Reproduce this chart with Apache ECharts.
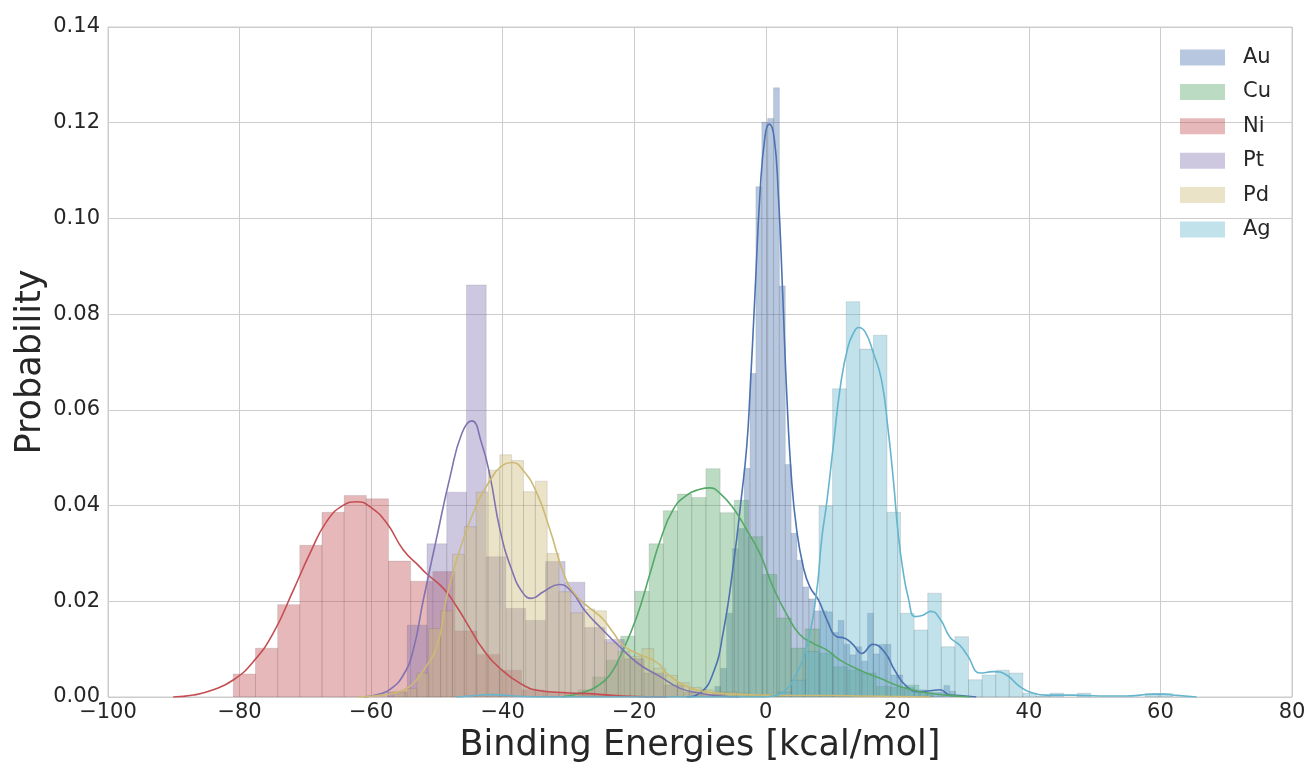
<!DOCTYPE html>
<html>
<head>
<meta charset="utf-8">
<script src="https://cdn.jsdelivr.net/npm/echarts@6/dist/echarts.min.js"></script>
<style>
  html, body { margin: 0; padding: 0; background: #ffffff; }
  #chart { width: 1312px; height: 769px; }
</style>
</head>
<body>
<div id="chart"></div>
<script>
// Binding-energy distributions: normalised histograms plus kernel density curves
const metals = ['Au', 'Cu', 'Ni', 'Pt', 'Pd', 'Ag'];
const palette = ['#4C72B0', '#55A868', '#C44E52', '#8172B2', '#CCB974', '#64B5CD'];

const xTicks = [-100, -80, -60, -40, -20, 0, 20, 40, 60, 80];
const yTicks = [0, 0.02, 0.04, 0.06, 0.08, 0.10, 0.12, 0.14];

// Histogram bins: left edge of first bin, bin width, density per bin
const auStart = -7.75, auWidth = 0.893;
const auHist = [0.0022, 0.006, 0.0175, 0.031, 0.0352, 0.0478, 0.0676, 0.1066, 0.1201, 0.1209, 0.1273,
  0.0859, 0.0486, 0.0342, 0.0286, 0.023, 0.0205, 0.018, 0.018, 0.0178, 0.0135, 0.016, 0.011, 0.0088,
  0.0105, 0.0075, 0.0175, 0.009, 0.011, 0.011, 0.0046, 0.0046, 0.002, 0.002, 0.0015, 0.0015, 0.001,
  0.001, 0.001, 0.0024, 0.0012];

const cuStart = -28.53, cuWidth = 2.159;
const cuHist = [0.0015, 0.0042, 0.0077, 0.0127, 0.0221, 0.032, 0.0389, 0.0424, 0.0417, 0.0477, 0.0385,
  0.0411, 0.0335, 0.0256, 0.0165, 0.0102, 0.0142, 0.0091, 0.0063, 0.0056, 0.005, 0.0022, 0.002, 0.0025, 0.0008];

const niStart = -80.95, niWidth = 3.37;
const niHist = [0.0048, 0.0102, 0.0193, 0.0317, 0.0386, 0.0421, 0.0414, 0.0284, 0.0242, 0.0262, 0.0138,
  0.0089, 0.0056, 0.0015, 0.001, 0.0008, 0.0005];

const ptStart = -57.5, ptWidth = 3.0;
const ptHist = [0.001, 0.015, 0.032, 0.0428, 0.0861, 0.0293, 0.0185, 0.016, 0.0283, 0.024, 0.0145,
  0.012, 0.008, 0.005, 0.0025, 0.001, 0.0005];

const pdStart = -56.63, pdWidth = 1.80;
const pdHist = [0.0011, 0.0018, 0.005, 0.0143, 0.018, 0.0298, 0.0356, 0.0428, 0.0474, 0.0506, 0.0494,
  0.0429, 0.0451, 0.030, 0.022, 0.0176, 0.0184, 0.018, 0.0113, 0.0095, 0.0085, 0.0101, 0.006, 0.0045,
  0.003, 0.002, 0.0015, 0.001, 0.001, 0.0008, 0.0005, 0.0005, 0.0003];

const agStart = 1.897, agWidth = 2.066;
const agHist = [0.001, 0.0035, 0.0095, 0.0399, 0.0644, 0.0826, 0.0727, 0.0756, 0.0386, 0.0175, 0.014,
  0.0217, 0.0105, 0.0126, 0.0036, 0.0046, 0.0056, 0.005, 0.0008, 0.0002, 0.0008, 0, 0.0008, 0, 0, 0, 0,
  0.0007, 0.0007];

// Kernel density estimates (x, density)
const auKdeX = [-12, -10, -8, -6.5, -4.9, -3.7, -2.9, -2.4, -1.64, -0.88, -0.12, 0.53, 1.25, 1.9, 2.57,
  3.18, 3.93, 4.7, 5.7, 6.7, 8.0, 9.3, 10.8, 12.0, 13.3, 14.6, 16.3, 18.1, 19.6, 21.4, 23.4, 25.0, 26.5,
  28, 29.5, 32];
const auKdeY = [0, 0.0008, 0.005, 0.0133, 0.0279, 0.0418, 0.0523, 0.0635, 0.0843, 0.1052, 0.1171, 0.1197,
  0.1171, 0.1052, 0.0843, 0.0635, 0.0453, 0.0349, 0.0272, 0.023, 0.0203, 0.0161, 0.0126, 0.0123, 0.0109,
  0.0091, 0.011, 0.0093, 0.0056, 0.0022, 0.0011, 0.0013, 0.0015, 0.0004, 0.0003, 0];

const cuKdeX = [-31, -29.3, -27.5, -25.7, -23.7, -21.7, -19.6, -17.6, -16.1, -14.1, -12.0, -10, -8.5, -7.0,
  -4.9, -2.9, -0.9, 1.1, 3.2, 5.2, 7.2, 9.3, 11.3, 14.3, 17.4, 20.4, 23.4, 27.5, 31];
const cuKdeY = [0, 0.0004, 0.0011, 0.0022, 0.0046, 0.0098, 0.0168, 0.0258, 0.0325, 0.0391, 0.0422, 0.0434,
  0.0437, 0.0426, 0.0394, 0.0349, 0.03, 0.023, 0.0172, 0.013, 0.0112, 0.0098, 0.0077, 0.0056, 0.0039,
  0.0022, 0.0011, 0.0004, 0];

const niKdeX = [-90.1, -87, -84, -80.9, -77.9, -74.9, -71.8, -69.3, -66.8, -64.2, -62.2, -60.2, -57.6,
  -55.1, -52.6, -51.6, -49.0, -47.0, -45.0, -42.9, -40.4, -37.4, -34.3, -30.3, -25.7, -21.7, -15];
const niKdeY = [0, 0.0004, 0.0015, 0.0036, 0.0074, 0.0133, 0.0224, 0.030, 0.0366, 0.0401, 0.0408, 0.0398,
  0.0363, 0.0307, 0.0272, 0.0258, 0.0227, 0.0189, 0.0144, 0.0098, 0.006, 0.0029, 0.0013, 0.0009, 0.0006,
  0.0002, 0];

const ptKdeX = [-61, -59, -57.1, -55.1, -53.6, -52.1, -50.0, -48.0, -46.2, -44.7, -43.2, -41.9, -40.4,
  -38.6, -36.9, -35.6, -33.8, -31.4, -29.5, -27.5, -24.9, -22.2, -19.4, -16.1, -13.0, -10.0, -7.0, -4];
const ptKdeY = [0, 0.0005, 0.0016, 0.0046, 0.0098, 0.02, 0.0335, 0.046, 0.0551, 0.0577, 0.053, 0.046,
  0.0349, 0.0265, 0.0217, 0.0206, 0.022, 0.0235, 0.022, 0.018, 0.0142, 0.0105, 0.007, 0.0043, 0.0018,
  0.0008, 0.0002, 0];

const pdKdeX = [-62, -59, -56.6, -54.1, -52.1, -50.0, -48.5, -47.0, -44.5, -41.9, -39.9, -38.6, -36.9,
  -34.8, -32.8, -30.5, -28.7, -26.7, -24.9, -23.2, -21.7, -19.4, -17.4, -16.1, -15.1, -12.5, -10, -7,
  -4.9, 0, 5, 10, 15, 20, 25];
const pdKdeY = [0, 0.0003, 0.0008, 0.0022, 0.0055, 0.0105, 0.021, 0.0286, 0.0384, 0.0453, 0.0485, 0.049,
  0.0474, 0.0426, 0.0349, 0.025, 0.021, 0.0185, 0.0165, 0.0135, 0.0108, 0.009, 0.0079, 0.0067, 0.005,
  0.0025, 0.0013, 0.0008, 0.0006, 0.0004, 0.0003, 0.0003, 0.0002, 0.0001, 0];

const agKdeX = [-47, -44, -42, -40, -37, -34, -20, -0.5, 1.1, 2.8, 4.2, 6.2, 7.7, 8.5, 9.3, 10.25, 11.4,
  12.5, 13.4, 14.1, 15.1, 16.3, 17.6, 18.6, 19.4, 20.1, 20.8, 21.7, 22.7, 23.9, 25.1, 26.5, 28, 29.5,
  30.7, 32.6, 34.6, 36.6, 38.6, 40.7, 42.7, 46.7, 50.8, 54.9, 57, 58.9, 60.5, 62, 65.5];
const agKdeY = [0, 0.0003, 0.0005, 0.0004, 0.0001, 0, 0, 0, 0.0002, 0.0012, 0.0036, 0.0105, 0.0217, 0.033,
  0.041, 0.0523, 0.0655, 0.0732, 0.0762, 0.0772, 0.0763, 0.0721, 0.0662, 0.0558, 0.0453, 0.0345, 0.027,
  0.0205, 0.0168, 0.0171, 0.0179, 0.0163, 0.0125, 0.0108, 0.0086, 0.005, 0.0053, 0.0046, 0.0022,
  0.0008, 0.0004, 0.0004, 0.0002, 0.0002, 0.0004, 0.0006, 0.0006, 0.0004, 0];

const histograms = [
  [auStart, auWidth, auHist], [cuStart, cuWidth, cuHist], [niStart, niWidth, niHist],
  [ptStart, ptWidth, ptHist], [pdStart, pdWidth, pdHist], [agStart, agWidth, agHist]
];
const kdes = [
  [auKdeX, auKdeY], [cuKdeX, cuKdeY], [niKdeX, niKdeY],
  [ptKdeX, ptKdeY], [pdKdeX, pdKdeY], [agKdeX, agKdeY]
];

function withAlpha(hex, a) {
  const n = parseInt(hex.slice(1), 16);
  return 'rgba(' + ((n >> 16) & 255) + ',' + ((n >> 8) & 255) + ',' + (n & 255) + ',' + a + ')';
}

const textColor = '#262626';
const font = 'DejaVu Sans';

const series = [];
metals.forEach((name, i) => {
  const [start, width, heights] = histograms[i];
  const bins = [];
  heights.forEach((h, k) => {
    if (h > 0) bins.push([start + k * width, start + (k + 1) * width, h]);
  });
  const fill = withAlpha(palette[i], 0.4);
  series.push({
    type: 'custom',
    name: name,
    data: bins,
    encode: { x: [0, 1], y: 2 },
    clip: true,
    itemStyle: { color: fill },
    renderItem: function (params, api) {
      const topLeft = api.coord([api.value(0), api.value(2)]);
      const bottomRight = api.coord([api.value(1), 0]);
      return {
        type: 'rect',
        shape: {
          x: topLeft[0], y: topLeft[1],
          width: bottomRight[0] - topLeft[0],
          height: bottomRight[1] - topLeft[1]
        },
        style: { fill: fill, stroke: 'rgba(70,70,70,0.14)', lineWidth: 1 }
      };
    }
  });
  const [kx, ky] = kdes[i];
  series.push({
    type: 'line',
    name: name + ' density',
    data: kx.map((x, k) => [x, ky[k]]),
    showSymbol: false,
    smooth: 0.5,
    silent: true,
    lineStyle: { color: palette[i], width: 1.6 },
    itemStyle: { color: palette[i] }
  });
});

const chart = echarts.init(document.getElementById('chart'), null, { renderer: 'canvas' });
chart.setOption({
  animation: false,
  backgroundColor: '#ffffff',
  grid: {
    left: 108, right: 20, top: 27, bottom: 72,
    show: true, borderColor: '#cccccc', borderWidth: 1, backgroundColor: 'transparent'
  },
  legend: {
    data: metals.map((m, i) => ({ name: m, icon: 'rect', itemStyle: { color: withAlpha(palette[i], 0.4) } })),
    orient: 'vertical',
    left: 1180, top: 47,
    padding: 0,
    itemWidth: 45, itemHeight: 16, itemGap: 13.4,
    selectedMode: false,
    textStyle: { color: textColor, fontSize: 21, fontFamily: font, lineHeight: 20, padding: [0, 0, 0, 13] }
  },
  xAxis: {
    type: 'value',
    min: xTicks[0], max: xTicks[xTicks.length - 1], interval: 20,
    name: 'Binding Energies [kcal/mol]',
    nameLocation: 'middle', nameGap: 31,
    nameMoveOverlap: false,
    nameTextStyle: { color: textColor, fontSize: 35, fontFamily: font },
    axisLine: { show: false },
    axisTick: { show: false },
    axisLabel: {
      color: textColor, fontSize: 21, fontFamily: font, margin: 5,
      formatter: v => String(v).replace('-', '\u2212')
    },
    splitLine: { show: true, lineStyle: { color: '#cccccc', width: 1 } }
  },
  yAxis: {
    type: 'value',
    min: yTicks[0], max: yTicks[yTicks.length - 1], interval: 0.02,
    name: 'Probability',
    nameLocation: 'middle', nameGap: 60,
    nameMoveOverlap: false,
    nameTextStyle: { color: textColor, fontSize: 35, fontFamily: font },
    axisLine: { show: false },
    axisTick: { show: false },
    axisLabel: {
      color: textColor, fontSize: 21, fontFamily: font, margin: 8,
      formatter: v => v.toFixed(2)
    },
    splitLine: { show: true, lineStyle: { color: '#cccccc', width: 1 } }
  },
  series: series
});
</script>
</body>
</html>
